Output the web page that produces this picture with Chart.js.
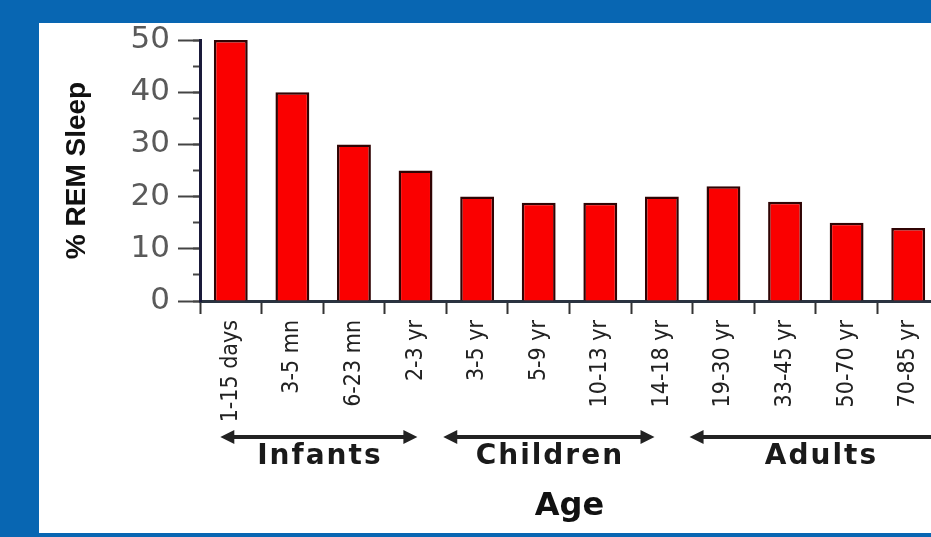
<!DOCTYPE html>
<html><head><meta charset="utf-8">
<script src="https://cdn.jsdelivr.net/npm/chart.js@4.4.1/dist/chart.umd.min.js"></script>
<style>
html,body{margin:0;padding:0;width:931px;height:537px;overflow:hidden;background:#0866b2;}
#panel{position:absolute;left:39px;top:23px;width:892px;height:510px;background:#fff;}
#wrap{position:absolute;left:0;top:0;width:945px;height:537px;}
</style></head><body>
<div id="panel"></div>
<div id="wrap"><canvas id="c" width="945" height="537"></canvas></div>
<script>
const categories = ['1-15 days','3-5 mn','6-23 mn','2-3 yr','3-5 yr','5-9 yr','10-13 yr','14-18 yr','19-30 yr','33-45 yr','50-70 yr','70-85 yr'];
const remPercent = [50, 40, 30, 25, 20, 18.8, 18.8, 20, 22, 19, 15, 14];
const yMin = 0, yMax = 50, yMajorStep = 10, yMinorStep = 5;
const groupNames = ['Infants', 'Children', 'Adults'];
const groupFrom = [-0.17, 3.45, 7.45];   // in category units
const groupTo = [3.03, 6.88, 11.7];

const groupPlugin = {
  id: 'groups',
  afterDraw(chart) {
    const ctx = chart.ctx, x = chart.scales.x;
    const yLine = x.top + 136, yText = x.top + 163;
    ctx.save();
    ctx.strokeStyle = '#222'; ctx.lineWidth = 4;
    for (let i = 0; i < groupNames.length; i++) {
      const a = x.getPixelForValue(groupFrom[i]);
      const b = x.getPixelForValue(groupTo[i]);
      ctx.fillStyle = '#222';
      ctx.beginPath(); ctx.moveTo(a + 8, yLine); ctx.lineTo(b - 8, yLine); ctx.stroke();
      ctx.beginPath(); ctx.moveTo(a, yLine); ctx.lineTo(a + 14, yLine - 7); ctx.lineTo(a + 14, yLine + 7); ctx.closePath(); ctx.fill();
      ctx.beginPath(); ctx.moveTo(b, yLine); ctx.lineTo(b - 14, yLine - 7); ctx.lineTo(b - 14, yLine + 7); ctx.closePath(); ctx.fill();
      ctx.font = 'bold 28px "DejaVu Sans", sans-serif';
      ctx.letterSpacing = '2px';
      ctx.textAlign = 'center'; ctx.textBaseline = 'alphabetic';
      ctx.fillStyle = '#1a1a1a';
      ctx.fillText(groupNames[i], (a + b) / 2 + 1, yText);
    }
    ctx.restore();
  }
};

new Chart(document.getElementById('c'), {
  type: 'bar',
  data: {
    labels: categories,
    datasets: [{
      data: remPercent,
      yAxisID: 'y',
      backgroundColor: '#fa0000',
      borderColor: '#300404',
      borderWidth: 2.5,
      barPercentage: 0.55,
      categoryPercentage: 1
    }]
  },
  options: {
    responsive: false,
    animation: false,
    layout: { padding: { top: 40, right: 6, left: 0, bottom: 0 } },
    plugins: { legend: { display: false }, tooltip: { enabled: false } },
    scales: {
      x: {
        position: 'bottom',
        grid: { offset: true, drawOnChartArea: false, tickLength: 13, tickWidth: 2, tickColor: '#333' },
        border: { color: '#2a3340', width: 3 },
        ticks: {
          autoSkip: false, minRotation: 90, maxRotation: 90, padding: 6, color: '#222',
          font: { family: '"Liberation Sans Narrow", "Arial Narrow", "DejaVu Sans Condensed", "Liberation Sans", sans-serif', size: 23 }
        },
        title: {
          display: true, text: 'Age', color: '#111',
          font: { family: '"DejaVu Sans", sans-serif', weight: 'bold', size: 32 },
          padding: { top: 0, bottom: 11 }
        },
        afterFit(s) { s.height = 236; }
      },
      y: {
        position: 'left', weight: 1,
        min: yMin, max: yMax,
        ticks: { stepSize: yMajorStep, color: '#5a5a5a', padding: 8,
          font: { family: '"DejaVu Sans", sans-serif', size: 31 } },
        grid: { drawOnChartArea: false, tickLength: 22, tickWidth: 2, tickColor: '#444' },
        border: { color: '#1a1a3a', width: 3 },
        title: {
          display: true, text: '% REM Sleep', color: '#111',
          font: { family: '"Liberation Sans", Arial, sans-serif', weight: 'bold', size: 28 },
          padding: { top: 60, bottom: 0 }
        },
        afterFit(s) { s.width = 200; }
      },
      y2: {
        position: 'left', weight: 0,
        min: yMin, max: yMax,
        ticks: { stepSize: yMinorStep, display: false },
        grid: { drawOnChartArea: false, tickLength: 7, tickWidth: 2, tickColor: '#444' },
        border: { display: false },
        afterFit(s) { s.width = 0; }
      }
    }
  },
  plugins: [groupPlugin]
});
</script>
</body></html>
